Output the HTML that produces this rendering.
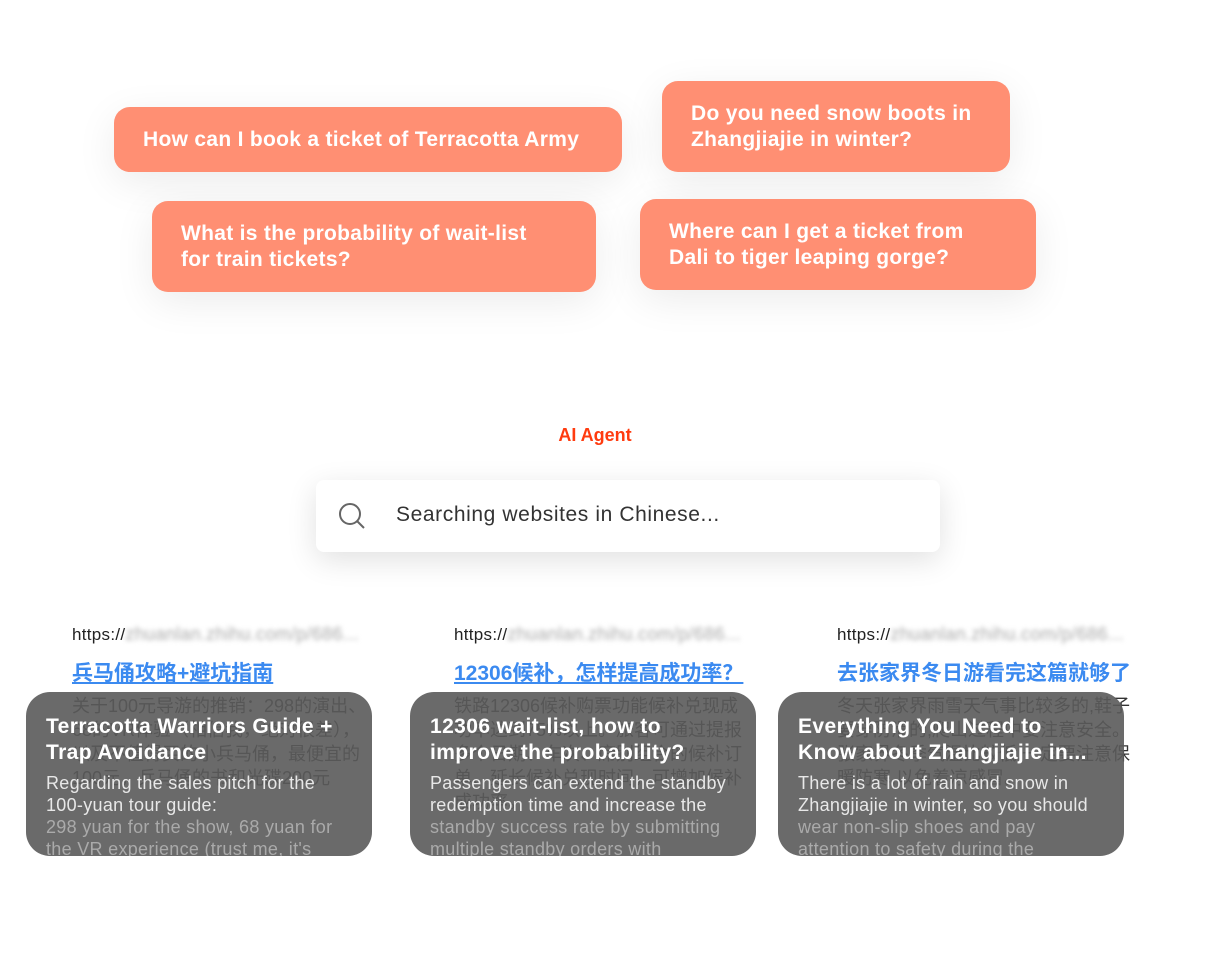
<!DOCTYPE html>
<html><head><meta charset="utf-8"><style>
body{margin:0;width:1216px;height:960px;background:#fff;position:relative;overflow:hidden;font-family:"Liberation Sans","Noto Sans CJK SC",sans-serif}
.p{position:absolute;background:#FF8F73;border-radius:16px;color:#fff;font-size:21px;letter-spacing:0.3px;font-weight:bold;line-height:26px;box-sizing:border-box;padding-left:29px;display:flex;align-items:center;box-shadow:0 10px 40px rgba(0,0,0,0.08)}
.url{position:absolute;font-size:17px;color:#222;letter-spacing:0.3px}
.url span{color:#aaa;filter:blur(2.5px);font-size:18px}
.ttl{position:absolute;font-size:21px;color:#3b8af0;font-weight:bold;text-decoration:underline;white-space:nowrap}
.zh{position:absolute;font-size:18px;line-height:24px;color:#333;width:300px}
.card{position:absolute;top:692px;width:346px;height:164px;border-radius:24px;background:rgba(90,90,90,0.9);overflow:hidden;box-sizing:border-box;padding:22px 0 0 20px;white-space:nowrap}
.card h3{margin:0 0 6px;font-size:21px;letter-spacing:0.4px;line-height:26px;color:#fff;font-weight:bold}
.card p{margin:0;font-size:18px;letter-spacing:0.3px;line-height:22px;color:#e8e8e8}
.card p i{font-style:normal;color:#aaa}
</style></head><body>
<div class="p" style="left:114px;top:107px;width:508px;height:65px">How can I book a ticket of Terracotta Army</div>
<div class="p" style="left:662px;top:81px;width:348px;height:91px">Do you need snow boots in<br>Zhangjiajie in winter?</div>
<div class="p" style="left:152px;top:201px;width:444px;height:91px">What is the probability of wait-list<br>for train tickets?</div>
<div class="p" style="left:640px;top:199px;width:396px;height:91px">Where can I get a ticket from<br>Dali to tiger leaping gorge?</div>

<div style="position:absolute;left:0;width:1190px;top:425px;text-align:center;color:#FF3B0F;font-weight:bold;font-size:18px">AI Agent</div>
<div style="position:absolute;left:316px;top:480px;width:624px;height:72px;background:#fff;border-radius:8px;box-shadow:0 8px 30px rgba(0,0,0,0.12)">
<svg style="position:absolute;left:22px;top:22px" width="28" height="28" viewBox="0 0 28 28"><circle cx="12" cy="12" r="10" fill="none" stroke="#666" stroke-width="2"/><line x1="19.5" y1="19.5" x2="26" y2="26" stroke="#666" stroke-width="2"/></svg>
<div style="position:absolute;left:80px;top:23px;font-size:21px;letter-spacing:0.6px;color:#333">Searching websites in Chinese...</div>
</div>

<div class="url" style="left:72px;top:624px">https://<span>zhuanlan.zhihu.com/p/686...</span></div>
<div class="url" style="left:454px;top:624px">https://<span>zhuanlan.zhihu.com/p/686...</span></div>
<div class="url" style="left:837px;top:624px">https://<span>zhuanlan.zhihu.com/p/686...</span></div>
<div class="ttl" style="left:72px;top:657px">兵马俑攻略+避坑指南</div>
<div class="ttl" style="left:454px;top:657px">12306候补，怎样提高成功率？</div>
<div class="ttl" style="left:837px;top:657px;text-decoration:none">去张家界冬日游看完这篇就够了</div>
<div class="zh" style="left:72px;top:694px">关于100元导游的推销：298的演出、68的VR体验（相信我，绝对很差），以及不值得买的小兵马俑，最便宜的100元，兵马俑的书和光碟200元</div>
<div class="zh" style="left:454px;top:694px">铁路12306候补购票功能候补兑现成功率达到75%以上。旅客可通过提报多个日期、车次、席别组合的候补订单、延长候补兑现时间，可增加候补成功率。</div>
<div class="zh" style="left:837px;top:694px">冬天张家界雨雪天气事比较多的,鞋子要穿防滑的,爬山过程中要注意安全。张家界冬季气温比较低,一定要注意保暖防寒,以免着凉感冒。</div>

<div class="card" style="left:26px"><h3>Terracotta Warriors Guide +<br>Trap Avoidance</h3><p>Regarding the sales pitch for the<br>100-yuan tour guide:<br><i>298 yuan for the show, 68 yuan for<br>the VR experience (trust me, it's</i></p></div>
<div class="card" style="left:410px"><h3>12306 wait-list, how to<br>improve the probability?</h3><p>Passengers can extend the standby<br>redemption time and increase the<br><i>standby success rate by submitting<br>multiple standby orders with</i></p></div>
<div class="card" style="left:778px"><h3>Everything You Need to<br>Know about Zhangjiajie in...</h3><p>There is a lot of rain and snow in<br>Zhangjiajie in winter, so you should<br><i>wear non-slip shoes and pay<br>attention to safety during the</i></p></div>
</body></html>
